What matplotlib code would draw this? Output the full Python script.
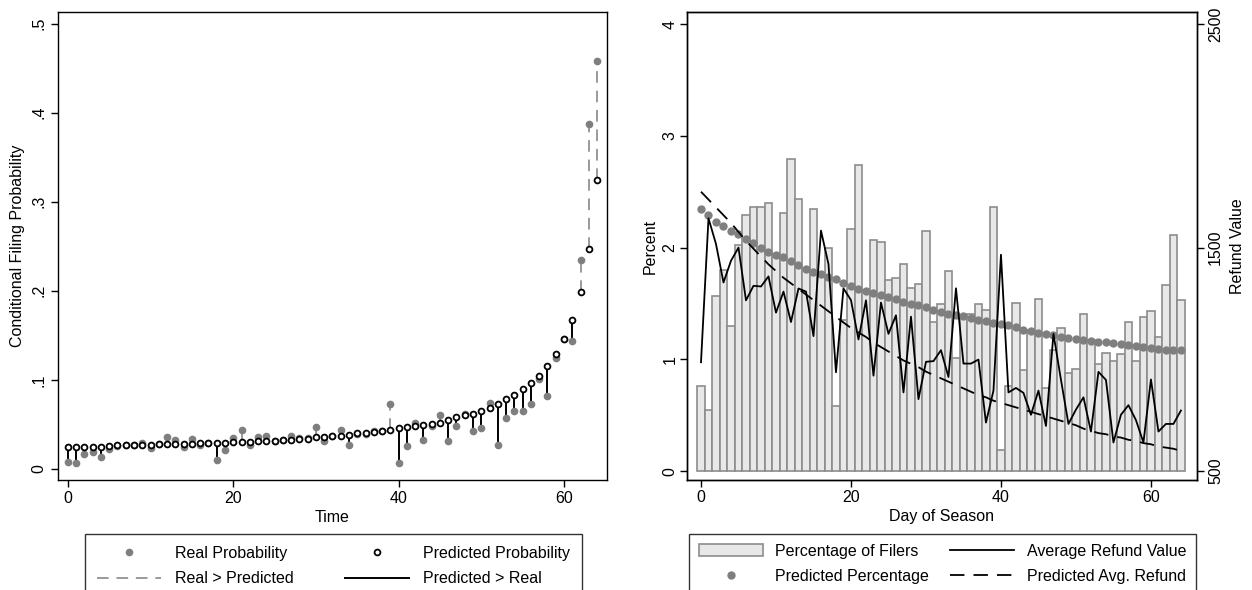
import matplotlib
matplotlib.use("Agg")
import matplotlib.pyplot as plt
from matplotlib.lines import Line2D
from matplotlib.patches import Patch
import numpy as np

plt.rcParams['font.family'] = ['Liberation Sans', 'DejaVu Sans']
plt.rcParams['font.size'] = 11.5

# ---- left panel: conditional filing probability ----
time = list(range(65))
real_prob = [0.0082, 0.0067, 0.0168, 0.019, 0.0138, 0.0228, 0.026, 0.0265, 0.027, 0.029,
             0.023, 0.028, 0.036, 0.032, 0.0246, 0.0336, 0.0265, 0.029, 0.0097, 0.021,
             0.0347, 0.044, 0.027, 0.0354, 0.037, 0.0313, 0.033, 0.037, 0.035, 0.035,
             0.0466, 0.031, 0.0366, 0.044, 0.0265, 0.039, 0.0395, 0.042, 0.0425, 0.0728,
             0.0067, 0.026, 0.052, 0.033, 0.0485, 0.061, 0.031, 0.0485, 0.0616, 0.0425,
             0.0455, 0.0743, 0.0265, 0.0567, 0.0646, 0.0646, 0.0728, 0.1015, 0.082, 0.125,
             0.146, 0.144, 0.2348, 0.3878, 0.458]
pred_prob = [0.025, 0.025, 0.025, 0.025, 0.025, 0.026, 0.0265, 0.0265, 0.0265, 0.0265,
             0.0265, 0.0276, 0.0276, 0.0276, 0.0276, 0.0276, 0.0287, 0.0287, 0.0287, 0.0287,
             0.030, 0.030, 0.030, 0.031, 0.031, 0.0313, 0.0325, 0.033, 0.034, 0.034,
             0.0354, 0.0354, 0.037, 0.037, 0.0384, 0.040, 0.040, 0.0414, 0.0425, 0.044,
             0.0455, 0.0466, 0.0478, 0.049, 0.0507, 0.052, 0.055, 0.058, 0.060, 0.062,
             0.0646, 0.0687, 0.0728, 0.078, 0.0825, 0.0896, 0.096, 0.1045, 0.115, 0.129,
             0.146, 0.167, 0.1985, 0.2467, 0.3247]
prob_ticks = [0, 0.1, 0.2, 0.3, 0.4, 0.5]
prob_tick_labels = ['0', '.1', '.2', '.3', '.4', '.5']

# ---- right panel: filers by day of season ----
day = list(range(65))
pct_filers = [0.758, 0.548, 1.567, 1.798, 1.297, 2.025, 2.289, 2.364, 2.364, 2.40,
              1.94, 2.313, 2.795, 2.433, 1.81, 2.346, 1.76, 2.0, 0.584, 1.348,
              2.169, 2.74, 1.62, 2.067, 2.052, 1.71, 1.725, 1.857, 1.636, 1.672,
              2.145, 1.33, 1.495, 1.791, 1.01, 1.40, 1.41, 1.497, 1.44, 2.364,
              0.186, 0.761, 1.507, 0.906, 1.26, 1.54, 0.746, 1.087, 1.282, 0.878,
              0.917, 1.41, 1.17, 0.958, 1.057, 0.989, 1.05, 1.333, 0.989, 1.378,
              1.432, 1.20, 1.663, 2.113, 1.53]
pred_pct = [2.343, 2.292, 2.226, 2.190, 2.145, 2.121, 2.076, 2.037, 1.996, 1.96,
            1.936, 1.918, 1.882, 1.84, 1.81, 1.78, 1.762, 1.741, 1.72, 1.684,
            1.654, 1.633, 1.615, 1.594, 1.573, 1.555, 1.537, 1.510, 1.498, 1.486,
            1.465, 1.441, 1.420, 1.405, 1.396, 1.384, 1.369, 1.354, 1.339, 1.325,
            1.315, 1.303, 1.291, 1.264, 1.252, 1.240, 1.231, 1.222, 1.201, 1.190,
            1.180, 1.171, 1.163, 1.157, 1.151, 1.142, 1.133, 1.124, 1.115, 1.109,
            1.100, 1.094, 1.088, 1.085, 1.085]
avg_refund = [987, 1631, 1516, 1344, 1441, 1500, 1264, 1329, 1326, 1371,
              1209, 1303, 1167, 1317, 1303, 1104, 1576, 1426, 942, 1317,
              1265, 1089, 1264, 927, 1254, 1114, 1197, 852, 1191, 822,
              989, 992, 1041, 921, 1318, 981, 981, 999, 717, 860,
              1468, 852, 872, 850, 752, 860, 702, 1114, 909, 711,
              775, 830, 677, 944, 908, 628, 752, 795, 728, 628,
              910, 677, 711, 711, 771]
pred_refund = [1750, 1715, 1680, 1645, 1610, 1570, 1530, 1495, 1460, 1425,
               1395, 1365, 1340, 1315, 1290, 1265, 1240, 1215, 1190, 1165,
               1140, 1120, 1100, 1075, 1055, 1035, 1015, 995, 980, 965,
               945, 930, 915, 900, 885, 870, 855, 840, 830, 815,
               805, 795, 785, 775, 765, 755, 745, 735, 725, 715,
               705, 690, 680, 670, 665, 655, 650, 640, 635, 625,
               620, 610, 605, 600, 590]
pct_ticks = [0, 1, 2, 3, 4]
refund_ticks = [500, 1500, 2500]

dot_gray = '#7f7f7f'
spike_gray = '#9a9a9a'

fig = plt.figure(figsize=(12.52, 5.9), dpi=100)
ax = fig.add_axes([0.0463, 0.1864, 0.4385, 0.7932])
axr = fig.add_axes([0.5487, 0.1864, 0.4073, 0.7932])

# left panel
t = np.array(time)
real = np.array(real_prob)
pred = np.array(pred_prob)
up = real > pred
ax.vlines(t[up], pred[up], real[up], colors=spike_gray, linestyles=(0, (6, 4)), lw=1.4, zorder=1)
ax.vlines(t[~up], real[~up], pred[~up], colors='black', lw=1.4, zorder=1)
ax.plot(t, real, 'o', color=dot_gray, ms=4.5, zorder=2)
ax.plot(t, pred, 'o', mfc='white', mec='black', mew=1.3, ms=4.2, zorder=3)

ax.set_xlim(-1.2, 65.2)
ax.set_ylim(-0.0125, 0.513)
ax.set_xticks([0, 20, 40, 60])
ax.set_yticks(prob_ticks)
ax.set_yticklabels(prob_tick_labels, rotation=90, va='center')
ax.set_xlabel('Time', labelpad=3)
ax.set_ylabel('Conditional Filing Probability', labelpad=5)
ax.tick_params(direction='out', length=5, width=1, pad=3)

leg_handles = [
    Line2D([], [], ls='none', marker='o', color=dot_gray, ms=4.5),
    Line2D([], [], color=spike_gray, ls=(0, (6, 4)), lw=1.4),
    Line2D([], [], ls='none', marker='o', mfc='white', mec='black', mew=1.3, ms=4.2),
    Line2D([], [], color='black', lw=1.4),
]
leg_labels = ['Real Probability', 'Real > Predicted', 'Predicted Probability', 'Predicted > Real']
leg1 = fig.legend(leg_handles, leg_labels, ncol=2, loc='upper center',
                  bbox_to_anchor=(0.2664, 0.095), borderaxespad=0, frameon=True,
                  fancybox=False, edgecolor='black', handlelength=4.0, handletextpad=0.9,
                  columnspacing=3.2, labelspacing=0.65, borderpad=0.75, fontsize=11.5)
leg1.get_frame().set_linewidth(1.0)

# right panel
axr.bar(day, pct_filers, width=1.0, color='#e8e8e8', edgecolor='#8c8c8c', lw=1.2, zorder=1)
axr.plot(day, pred_pct, 'o', color=dot_gray, ms=5, zorder=2)
axr.set_xlim(-1.87, 66.13)
ylo, yhi = -0.08, 4.108
axr.set_ylim(ylo, yhi)
axr.set_xticks([0, 20, 40, 60])
axr.set_yticks(pct_ticks)
axr.set_yticklabels([str(v) for v in pct_ticks], rotation=90, va='center')
axr.set_xlabel('Day of Season', labelpad=3)
axr.set_ylabel('Percent', labelpad=3)
axr.tick_params(direction='out', length=5, width=1, pad=2)

ax2 = axr.twinx()
ax2.plot(day, avg_refund, color='black', lw=1.3, zorder=3)
ax2.plot(day, pred_refund, color='black', lw=1.3, ls=(0, (8, 5)), zorder=3)
ax2.set_ylim(500 + 500 * ylo, 500 + 500 * yhi)
ax2.set_yticks(refund_ticks)
ax2.set_yticklabels([str(v) for v in refund_ticks], rotation=90, va='center')
ax2.set_ylabel('Refund Value', labelpad=5)
ax2.tick_params(direction='out', length=5, width=1, pad=3)

r_handles = [
    Patch(facecolor='#e8e8e8', edgecolor='#8c8c8c', lw=1.2),
    Line2D([], [], ls='none', marker='o', color=dot_gray, ms=5),
    Line2D([], [], color='black', lw=1.3),
    Line2D([], [], color='black', lw=1.3, ls=(0, (8, 5))),
]
r_labels = ['Percentage of Filers', 'Predicted Percentage', 'Average Refund Value', 'Predicted Avg. Refund']
leg2 = fig.legend(r_handles, r_labels, ncol=2, loc='upper center',
                  bbox_to_anchor=(0.7528, 0.095), borderaxespad=0, frameon=True,
                  fancybox=False, edgecolor='black', handlelength=4.0, handletextpad=0.8,
                  columnspacing=1.3, labelspacing=0.65, borderpad=0.6, fontsize=11.5)
leg2.get_frame().set_linewidth(1.0)

for a in (ax, axr, ax2):
    for s in a.spines.values():
        s.set_linewidth(1.0)

fig.savefig('out.png', dpi=100, facecolor='white')
